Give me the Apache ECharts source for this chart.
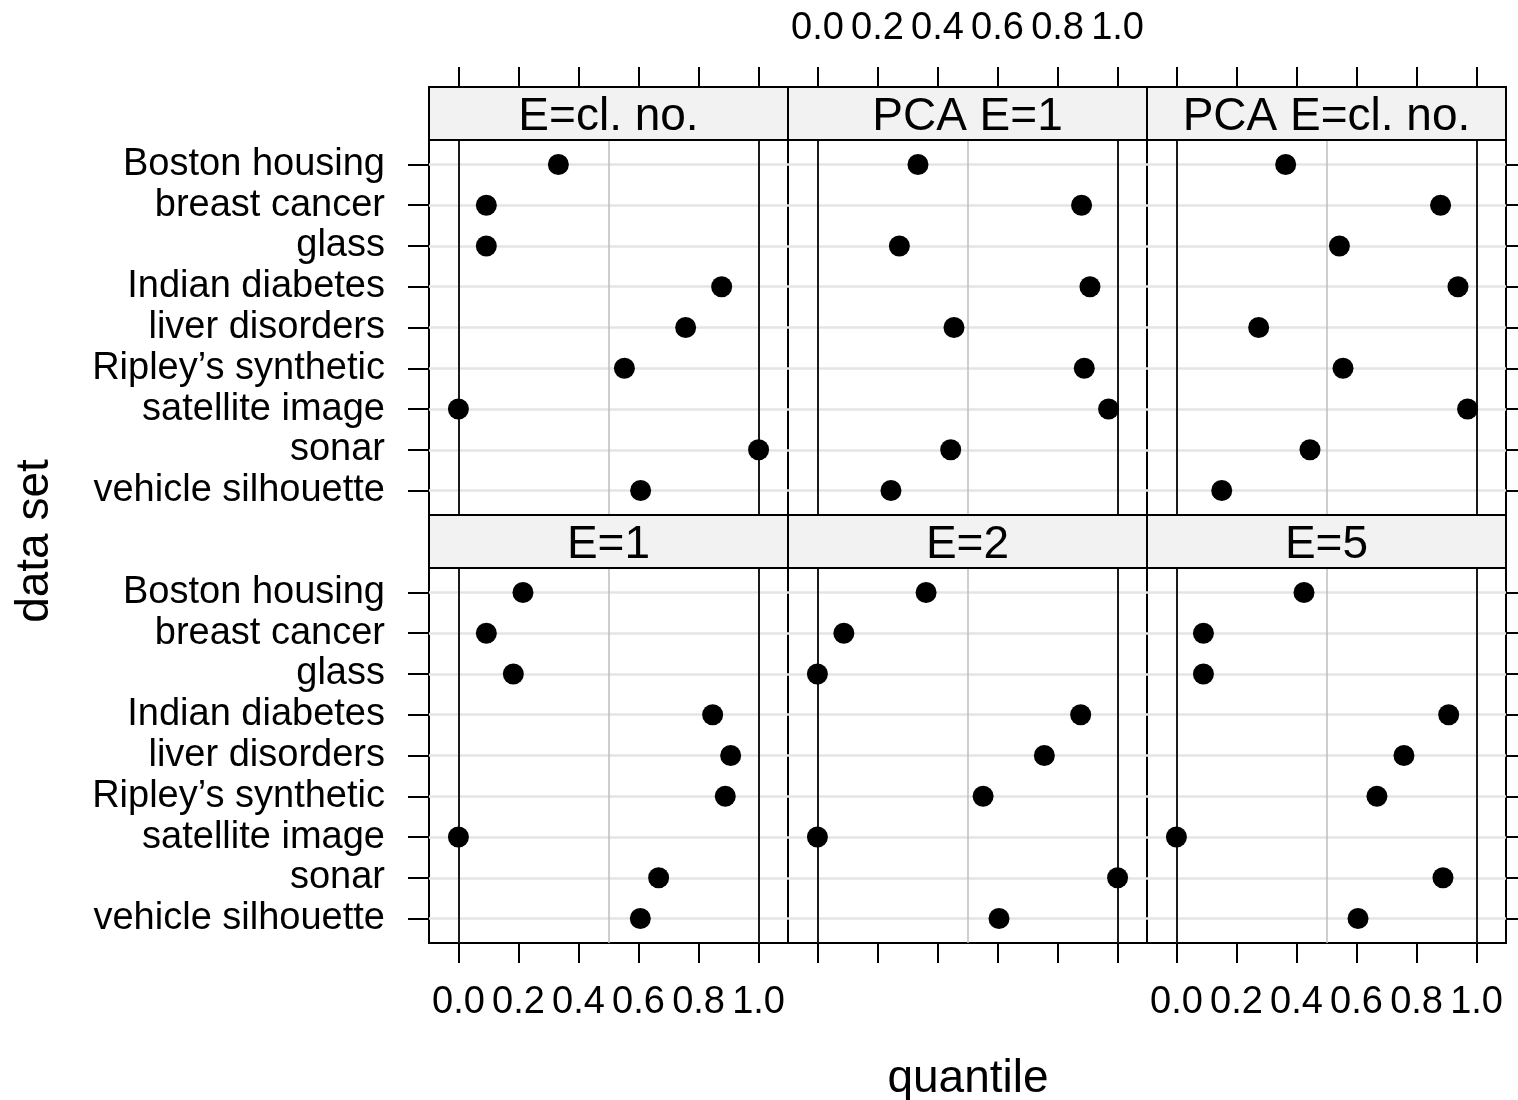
<!DOCTYPE html>
<html>
<head>
<meta charset="utf-8">
<script src="https://cdn.jsdelivr.net/npm/echarts@6/dist/echarts.min.js"></script>
<style>
html,body{margin:0;padding:0;background:#fff;}
#c{width:1518px;height:1100px;}
</style>
</head>
<body>
<div id="c"></div>
<script>
// ---- data ----
const categories = ['Boston housing','breast cancer','glass','Indian diabetes','liver disorders','Ripley\u2019s synthetic','satellite image','sonar','vehicle silhouette'];
const panelTitles = ['E=cl. no.','PCA E=1','PCA E=cl. no.','E=1','E=2','E=5'];
const qEclNo  = [0.333,0.093,0.093,0.877,0.757,0.553,0.000,1.000,0.607];
const qPcaE1  = [0.335,0.880,0.273,0.908,0.455,0.889,0.970,0.444,0.245];
const qPcaEcl = [0.364,0.880,0.543,0.938,0.274,0.555,0.970,0.445,0.151];
const qE1     = [0.215,0.093,0.183,0.847,0.907,0.889,0.000,0.667,0.606];
const qE2     = [0.362,0.088,0.000,0.877,0.756,0.552,0.000,1.000,0.605];
const qE5     = [0.425,0.090,0.090,0.907,0.758,0.668,0.000,0.888,0.605];
const xTickValues = [0,0.2,0.4,0.6,0.8,1.0];
const refLineValues = [0,0.5,1];
const xTitle = 'quantile';
const yTitle = 'data set';

// ---- layout ----
const panels = [qEclNo,qPcaE1,qPcaEcl,qE1,qE2,qE5];
const L = 429, W = 359, H = 375, STRIP = 53;
const tops = [140,568];
const FF = 'Liberation Sans', FS = 38, FS_BIG = 46;
const catIdx = categories.map((_,k)=>k);

const grids=[], xAxes=[], yAxes=[], series=[], graphics=[];
panels.forEach((vals,i)=>{
  const col=i%3, row=Math.floor(i/3);
  const left=L+col*W, top=tops[row];
  grids.push({left:left, top:top, width:W, height:H, show:true, borderColor:'#000', borderWidth:2, backgroundColor:'rgba(0,0,0,0)'});
  const showX = (row===0 && col===1) || (row===1 && col!==1);
  xAxes.push({
    gridIndex:i, type:'value', min:-0.098, max:1.098,
    position: row===0?'top':'bottom', offset: row===0?STRIP:0,
    axisLine:{show:false, onZero:false}, splitLine:{show:false},
    axisTick:{show:true, inside:false, customValues:xTickValues, length:20, lineStyle:{color:'#000', width:2}},
    axisLabel:{show:showX, customValues:xTickValues, formatter:v=>Number(v).toFixed(1),
      margin: row===0?39:41, fontFamily:FF, fontSize:FS, color:'#000'}
  });
  yAxes.push({
    gridIndex:i, type:'value', min:-0.6, max:8.6, inverse:true,
    position: col===2?'right':'left',
    axisLine:{show:false, onZero:false}, splitLine:{show:false},
    axisTick:{show: col!==1, inside:false, customValues:catIdx, length:21, lineStyle:{color:'#000', width:2}},
    axisLabel:{show: col===0, customValues:catIdx, formatter:v=>categories[v], margin:44,
      padding:[4,0,0,0], fontFamily:FF, fontSize:FS, color:'#000'}
  });
  series.push({
    type:'line', xAxisIndex:i, yAxisIndex:i, data:[], z:1, silent:true,
    markLine:{silent:true, animation:false, symbol:['none','none'], label:{show:false},
      lineStyle:{color:'#e4e4e4', width:2.5, type:'solid'},
      data: catIdx.map(k=>({yAxis:k}))}
  });
  series.push({
    type:'line', xAxisIndex:i, yAxisIndex:i, data:[], z:2, silent:true,
    markLine:{silent:true, animation:false, symbol:['none','none'], label:{show:false},
      data: refLineValues.map(v=>({xAxis:v, lineStyle:{type:'solid', color: v===0.5?'#bebebe':'#1a1a1a', width: v===0.5?1.5:2}}))}
  });
  series.push({
    type:'scatter', xAxisIndex:i, yAxisIndex:i, z:5,
    symbol:'circle', symbolSize:21, itemStyle:{color:'#000', opacity:1},
    data: vals.map((v,k)=>[v,k])
  });
  const sy = top-STRIP;
  graphics.push({type:'rect', shape:{x:left, y:sy, width:W, height:STRIP},
    style:{fill:'#f2f2f2', stroke:'#000', lineWidth:2}, z:10});
  graphics.push({type:'text', x:left+W/2, y:sy+STRIP/2+4, z:11,
    style:{text:panelTitles[i], fill:'#000', fontFamily:FF, fontSize:FS_BIG, align:'center', verticalAlign:'middle'}});
});
graphics.push({type:'text', x:35, y:541, rotation:Math.PI/2, z:11,
  style:{text:yTitle, fill:'#000', fontFamily:FF, fontSize:FS_BIG, align:'center', verticalAlign:'middle'}});
graphics.push({type:'text', x:968, y:1079, z:11,
  style:{text:xTitle, fill:'#000', fontFamily:FF, fontSize:FS_BIG, align:'center', verticalAlign:'middle'}});

const chart = echarts.init(document.getElementById('c'), null, {renderer:'canvas'});
chart.setOption({
  animation:false,
  backgroundColor:'#fff',
  grid:grids, xAxis:xAxes, yAxis:yAxes, series:series, graphic:graphics
});
</script>
</body>
</html>
